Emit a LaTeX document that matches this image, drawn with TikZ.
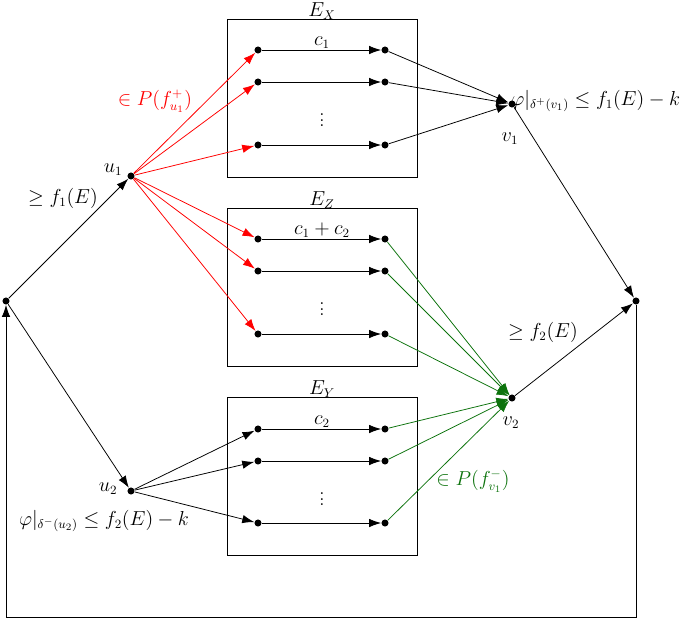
\documentclass[tikz,border=0pt]{standalone}
\usetikzlibrary{arrows.meta}
\definecolor{dgreen}{rgb}{0.05,0.45,0.05}
\begin{document}
\begin{tikzpicture}[x=0.025cm,y=-0.025cm,
  every node/.style={font=\fontsize{13.5pt}{16pt}\selectfont},
  dot/.style={circle,fill,inner sep=0pt,minimum size=5pt},
  arr/.style={-{Latex[length=8.5pt,width=6pt]}},
  every path/.style={line width=0.55pt},
  boxe/.style={draw,line width=0.55pt},
  lbl/.style={inner sep=1pt}]
\useasboundingbox (0,0) rectangle (685,619);
% main nodes
\node[dot] (s) at (6,301) {};
\node[dot] (u1) at (131,176) {};
\node[dot] (u2) at (131,491) {};
\node[dot] (v1) at (512,104) {};
\node[dot] (v2) at (512,398) {};
\node[dot] (t) at (636,301) {};
% boxes
\node[boxe,minimum width=190*0.025cm,minimum height=158*0.025cm] (BX) at (322,98) {};
\node[boxe,minimum width=190*0.025cm,minimum height=158*0.025cm] (BZ) at (322,287) {};
\node[boxe,minimum width=190*0.025cm,minimum height=158*0.025cm] (BY) at (322,476) {};
\node[inner sep=0pt,anchor=base] (lX) at (322,16) {$E_X$};
\node[inner sep=0pt,anchor=base] (lZ) at (322,205) {$E_Z$};
\node[inner sep=0pt,anchor=base] (lY) at (322,394) {$E_Y$};
% rows
\foreach \n/\a/\b/\c in {x/50/82/145, z/239/271/334, y/429/461/523}{
  \node[dot] (\n L1) at (258,\a) {};
  \node[dot] (\n R1) at (385,\a) {};
  \node[dot] (\n L2) at (258,\b) {};
  \node[dot] (\n R2) at (385,\b) {};
  \node[dot] (\n L3) at (258,\c) {};
  \node[dot] (\n R3) at (385,\c) {};
  \draw[arr] (\n L1) -- (\n R1);
  \draw[arr] (\n L2) -- (\n R2);
  \draw[arr] (\n L3) -- (\n R3);
}
\node[lbl,above] (cx) at (322,50) {$c_1$};
\node[lbl,above] (cz) at (322,239) {$c_1+c_2$};
\node[lbl,above] (cy) at (322,429) {$c_2$};
\node (dx) at (322,116) {$\vdots$};
\node (dz) at (322,305) {$\vdots$};
\node (dy) at (322,495) {$\vdots$};
% source edges
\draw[arr] (s) -- (u1);
\draw[arr] (s) -- (u2);
\foreach \k in {xL1,xL2,xL3,zL1,zL2,zL3}{\draw[arr,red] (u1) -- (\k);}
\foreach \k in {yL1,yL2,yL3}{\draw[arr] (u2) -- (\k);}
\foreach \k in {xR1,xR2,xR3}{\draw[arr] (\k) -- (v1);}
\foreach \k in {zR1,zR2,zR3,yR1,yR2,yR3}{\draw[arr,dgreen] (\k) -- (v2);}
\draw[arr] (v1) -- (t);
\draw[arr] (v2) -- (t);
\coordinate (b1) at (636,617);
\coordinate (b2) at (6,617);
\draw[arr] (t) -- (b1) -- (b2) -- (s);
% labels
\node (lu1) at (113,170) {$u_1$};
\node (lu2) at (108,489) {$u_2$};
\node (lv1) at (510,139) {$v_1$};
\node (lv2) at (511,423) {$v_2$};
\node (g1) at (63,198) {$\geq f_1(E)$};
\node (g2) at (543,332) {$\geq f_2(E)$};
\node[red] (p1) at (155,101) {$\in P(f^+_{u_1})$};
\node[dgreen] (p2) at (473,481) {$\in P(f^-_{v_1})$};
\node[anchor=west,inner sep=0pt] (phi1) at (511,101) {$\varphi|_{\delta^+(v_1)}\leq f_1(E)-k$};
\node (phi2) at (104,521) {$\varphi|_{\delta^-(u_2)}\leq f_2(E)-k$};
\end{tikzpicture}
\end{document}
